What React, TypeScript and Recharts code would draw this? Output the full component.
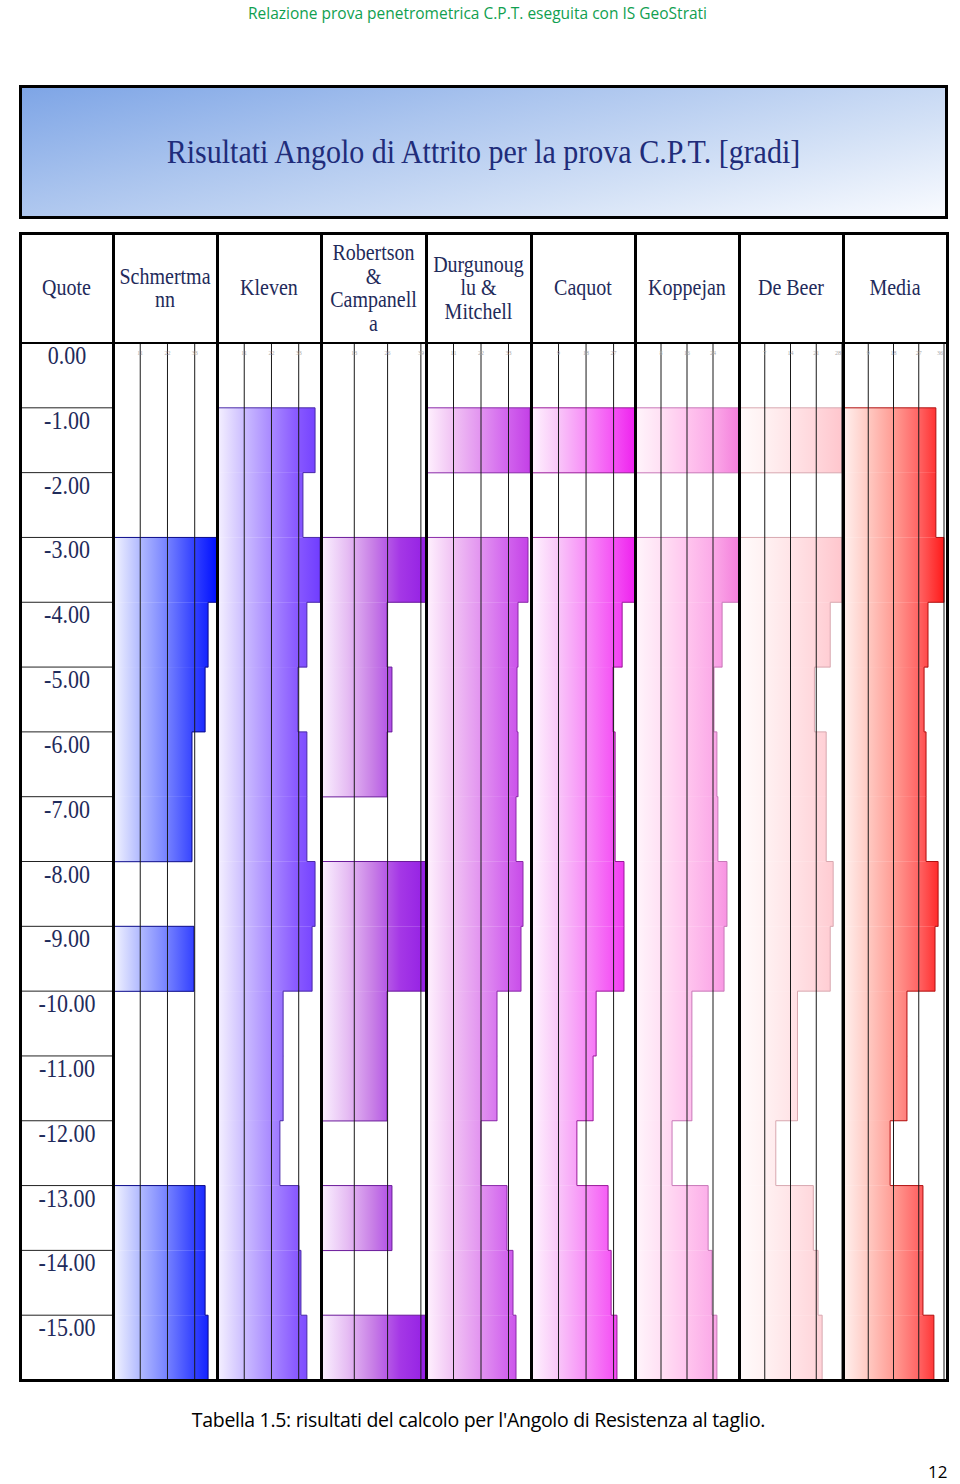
import { BarChart, Bar, XAxis, YAxis, ReferenceLine } from "recharts";

// depth rows (m) and friction angle results [gradi] per method, one value per 1 m interval
const depths = ["0.00", "-1.00", "-2.00", "-3.00", "-4.00", "-5.00", "-6.00", "-7.00", "-8.00", "-9.00", "-10.00", "-11.00", "-12.00", "-13.00", "-14.00", "-15.00"];

const schmertmann = [null, null, null, 42, 38.4, 37.2, 31.9, 31.9, null, 32.7, null, null, null, 37.2, 37.2, 38.4];
const kleven = [null, 39.6, 34.7, 41.6, 36.3, 32.7, 36.3, 36.3, 39.6, 38.4, 26.7, 26.7, 25.4, 33.1, 33.9, 36.3];
const robertson = [null, null, null, 41, 25.8, 27.7, 25.8, null, 41, 41, 25.8, 25.8, null, 27.7, null, 41];
const durgunoglu = [null, 41.6, null, 40.8, 36.8, 36.4, 36.8, 36.0, 38.8, 38.0, 28.4, 28.4, 22.0, 32.4, 34.8, 36.0];
const caquot = [null, 34, null, 34, 29.8, 26.8, 27.5, 27.5, 30.4, 30.4, 21.3, 20.3, 15.0, 25.2, 26.2, 28.1];
const koppejan = [null, 32, null, 32, 26.8, 24.3, 25.2, 25.5, 28.3, 27.4, 17.5, 17.5, 11.4, 22.5, 23.7, 25.2];
const deBeer = [null, 28, null, 28, 24.8, 20.5, 23.7, 23.7, 25.6, 24.8, 15.9, 15.9, 10.0, 20.2, 21.5, 22.6];
const media = [null, 33.1, 33.1, 36, 30.3, 28.9, 29.6, 29.6, 33.9, 32.8, 22.8, 22.8, 16.8, 28.5, 28.5, 32.4];

const headers = [["Quote"], ["Schmertma", "nn"], ["Kleven"], ["Robertson", "&", "Campanell", "a"], ["Durgunoug", "lu &", "Mitchell"], ["Caquot"], ["Koppejan"], ["De Beer"], ["Media"]];

const seriesList = [schmertmann, kleven, robertson, durgunoglu, caquot, koppejan, deBeer, media];
const axisMax = [42, 42, 41, 42, 34, 32, 28, 36];
const axisTicks = [[11, 22, 33], [11, 22, 33], [13, 26, 39], [11, 22, 33], [9, 18, 27], [8, 16, 24], [7, 14, 21, 28], [9, 18, 27, 36]];

// layout / styling
const borders = [20, 113, 217, 321, 426, 531, 635, 739, 843, 947];
const TOP = 233;
const SEP = 343;
const BOTTOM = 1380;
const ROW_H = (BOTTOM - SEP) / depths.length;
const rightPad = [0, 0, 0, 0, 0, 0, 1, 3];
const gradients = [
  ["#f4f5ff", "#b4bcff", "#7a86ff", "#3a48ff", "#0010ff"],
  ["#f6f2ff", "#cdbfff", "#ab8dff", "#8b5cff", "#6f3cff"],
  ["#fbf2ff", "#e6bdf3", "#c77de6", "#a538e6", "#9420e4"],
  ["#fff2fe", "#f1c4f4", "#e397f0", "#d368ee", "#c33fe6"],
  ["#fff4fe", "#f9c8f9", "#f794f7", "#f55cf5", "#ee22ee"],
  ["#fff5fb", "#ffe0f4", "#ffc5ee", "#fbaae8", "#f47fdc"],
  ["#fffbfb", "#fff1f2", "#ffe4e7", "#ffd6db", "#ffc6cd"],
  ["#fff1ef", "#ffc9c2", "#ff9c94", "#ff6464", "#ff1a1a"],
];
const strokes = ["#0a0a8a", "#4a2aa8", "#6a1a9a", "#8a2aa8", "#9a1a9a", "#c878b8", "#d8a8b0", "#b01010"];
const ink = "#1f2b5b";
const serif = '"Liberation Serif", "Times New Roman", serif';

function makeShape(values: (number | null)[], gradId: string, stroke: string) {
  return (props: any) => {
    const { x, y, width, height, payload } = props;
    const index = payload.i;
    const v = values[index];
    if (v == null || !(width > 0)) return <g />;
    const k = width / v;
    const prev = index > 0 ? values[index - 1] : null;
    const next = index < values.length - 1 ? values[index + 1] : null;
    const wPrev = prev == null ? 0 : prev * k;
    let d = `M${x + wPrev},${y} H${x + width} V${y + height}`;
    if (next == null) d += ` H${x}`;
    return (
      <g>
        <rect x={x} y={y} width={width} height={height} fill={`url(#${gradId})`} />
        <path d={d} fill="none" stroke={stroke} strokeWidth={1} />
      </g>
    );
  };
}

function makeTick(plotW: number) {
  return (props: any) => {
    const { x, y, payload } = props;
    const atEdge = x > plotW - 5;
    return (
      <text x={atEdge ? x - 1 : x} y={y} dy={4} textAnchor={atEdge ? "end" : "middle"} fontSize={6} fill="#aaa">
        {payload.value}
      </text>
    );
  };
}

function MethodColumn({ idx }: { idx: number }) {
  const values = seriesList[idx];
  const left = borders[idx + 1];
  const width = borders[idx + 2] - left;
  const height = BOTTOM - SEP;
  const plotW = width - rightPad[idx];
  const gradId = `grad-${idx}`;
  const rows = depths.map((d, i) => ({ depth: d, v: values[i], i }));
  const stops = gradients[idx];
  return (
    <div style={{ position: "absolute", left, top: SEP, width, height }}>
      <BarChart width={width} height={height} data={rows} layout="vertical" barCategoryGap={0} barGap={0} margin={{ top: 0, right: rightPad[idx], bottom: 0, left: 0 }}>
        <defs>
          <linearGradient id={gradId} gradientUnits="userSpaceOnUse" x1={0} y1={0} x2={plotW} y2={0}>
            {stops.map((c, i) => (
              <stop key={i} offset={i / (stops.length - 1)} stopColor={c} />
            ))}
          </linearGradient>
        </defs>
        <XAxis type="number" domain={[0, axisMax[idx]]} ticks={axisTicks[idx]} interval={0} orientation="top" mirror axisLine={false} tickLine={false} tick={makeTick(plotW)} />
        <YAxis type="category" dataKey="depth" hide />
        <Bar dataKey="v" isAnimationActive={false} shape={makeShape(values, gradId, strokes[idx])} />
        {axisTicks[idx].map((t) => (
          <ReferenceLine key={t} x={t} stroke="#1a1a1a" strokeWidth={1} zIndex={500} />
        ))}
      </BarChart>
    </div>
  );
}

function DepthTick(props: any) {
  const { y, payload } = props;
  const half = ROW_H / 2;
  return (
    <g>
      <text transform={`translate(47, ${y - half + 21}) scale(1, 1.15)`} textAnchor="middle" fontFamily={serif} fontSize={22} fill={ink}>
        {payload.value}
      </text>
      <line x1={0} x2={93} y1={y + half} y2={y + half} stroke="#222" strokeWidth={1} />
    </g>
  );
}

function QuoteColumn() {
  const width = borders[1] - borders[0];
  const height = BOTTOM - SEP;
  const rows = depths.map((d) => ({ depth: d, v: 0 }));
  return (
    <div style={{ position: "absolute", left: borders[0], top: SEP, width, height }}>
      <BarChart width={width} height={height} data={rows} layout="vertical" margin={{ top: 0, right: 0, bottom: 0, left: 0 }}>
        <XAxis type="number" hide domain={[0, 1]} />
        <YAxis type="category" dataKey="depth" width={width - 1} axisLine={false} tickLine={false} interval={0} tick={<DepthTick />} />
        <Bar dataKey="v" isAnimationActive={false} fill="none" />
      </BarChart>
    </div>
  );
}

export default function App() {
  const line = (style: any, key: string) => <div key={key} style={{ position: "absolute", background: "#000", ...style }} />;
  return (
    <div style={{ position: "absolute", left: 0, top: 0, width: 960, height: 1484, background: "#fff", overflow: "hidden" }}>
      <div style={{ position: "absolute", left: 0, top: 2, width: 955, textAlign: "center", color: "#10a050", fontFamily: '"Open Sans", sans-serif', fontSize: 15.5 }}>
        Relazione prova penetrometrica C.P.T. eseguita con IS GeoStrati
      </div>

      <div
        style={{
          position: "absolute",
          left: 19,
          top: 85,
          width: 929,
          height: 134,
          boxSizing: "border-box",
          border: "3px solid #000",
          background: "linear-gradient(168deg, #7ea5e6 0%, #aac4ee 35%, #d3e1f6 70%, #f9fbff 100%)",
          display: "flex",
          alignItems: "center",
          justifyContent: "center",
        }}
      >
        <span style={{ fontFamily: serif, fontSize: 30, color: "#202c7a", display: "inline-block", transform: "scaleY(1.15)" }}>
          Risultati Angolo di Attrito per la prova C.P.T. [gradi]
        </span>
      </div>

      {headers.map((lines, i) => (
        <div
          key={i}
          style={{
            position: "absolute",
            left: borders[i],
            top: TOP,
            width: borders[i + 1] - borders[i],
            height: SEP - TOP,
            display: "flex",
            flexDirection: "column",
            alignItems: "center",
            justifyContent: "center",
            fontFamily: serif,
            fontSize: 20,
            lineHeight: "23.5px",
            color: ink,
          }}
        >
          {lines.map((l, j) => (
            <div key={j} style={{ transform: "scaleY(1.2)" }}>
              {l}
            </div>
          ))}
        </div>
      ))}

      <QuoteColumn />
      {seriesList.map((_, i) => (
        <MethodColumn key={i} idx={i} />
      ))}

      {borders.map((b, i) => line({ left: b - 1.5, top: TOP - 1, width: 3, height: BOTTOM - TOP + 3 }, `v${i}`))}
      {line({ left: borders[0] - 1.5, top: TOP - 1.5, width: borders[9] - borders[0] + 3, height: 3 }, "ht")}
      {line({ left: borders[0] - 1.5, top: SEP - 1.5, width: borders[9] - borders[0] + 3, height: 2.5 }, "hs")}
      {line({ left: borders[0] - 1.5, top: BOTTOM - 1, width: borders[9] - borders[0] + 3, height: 3 }, "hb")}

      <div style={{ position: "absolute", left: 0, top: 1406, width: 957, textAlign: "center", fontFamily: '"Open Sans", sans-serif', fontSize: 19.5, letterSpacing: -0.3, color: "#000" }}>
        Tabella 1.5: risultati del calcolo per l'Angolo di Resistenza al taglio.
      </div>
      <div style={{ position: "absolute", left: 928, top: 1460, fontFamily: '"Open Sans", sans-serif', fontSize: 17, color: "#000" }}>12</div>
    </div>
  );
}
